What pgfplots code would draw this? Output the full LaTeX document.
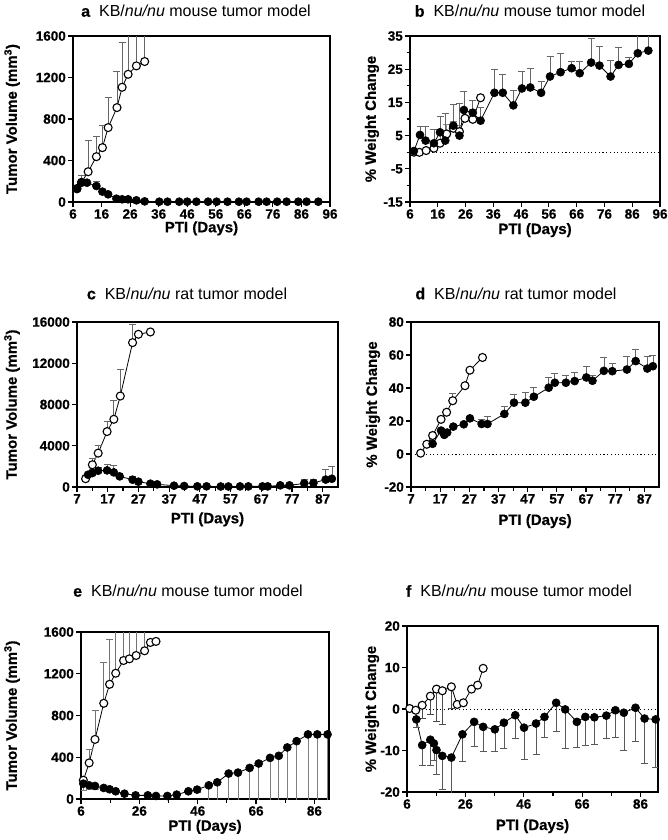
\documentclass[border=0pt]{standalone}
\usepackage{fontspec}
\setmainfont{Liberation Sans}
\newfontfamily\heavy{Liberation Sans Bold}[FakeBold=0.6]
\usepackage{pgfplots}
\pgfplotsset{compat=1.18}
\pgfplotsset{
 panel/.style={scale only axis, enlargelimits=false,
  scaled x ticks=false, scaled y ticks=false,
  axis line style={line width=1.3pt},
  every tick/.style={line width=1.2pt, black},
  tick align=outside, tick pos=left,
  major tick length=5pt, minor tick length=3.5pt,
  tick label style={font=\fontsize{13.5}{15}\selectfont\heavy, inner sep=2pt},
  label style={font=\fontsize{15}{17}\selectfont\heavy},
  xlabel={PTI (Days)},
  clip=true},
 xl/.style={xlabel style={at={(axis description cs:0.5,#1)}, anchor=base}},
 yl/.style={ylabel style={at={(axis description cs:#1,0.5)}, anchor=center}},
 filled/.style={black, line width=0.8pt, mark=*, mark size=4pt, mark options={fill=black, draw=black, line width=0.6pt}},
 open/.style={black, line width=0.8pt, mark=*, mark size=4pt, mark options={fill=white, draw=black, line width=1.1pt}},
 ebp/.style={error bars/.cd, y dir=plus, y explicit, error bar style={line width=0.7pt, color=#1}, error mark options={rotate=90, line width=0.7pt, color=#1, mark size=3.5pt}},
 ebm/.style={error bars/.cd, y dir=minus, y explicit, error bar style={line width=0.7pt, color=#1}, error mark options={rotate=90, line width=0.7pt, color=#1, mark size=3.5pt}},
 zeroline/.style={black, line width=1pt, dash pattern=on 1.1pt off 2.6pt, forget plot}
}
\newcommand{\ttl}[2]{\fontsize{16}{19}\selectfont{\heavy #1}\hspace{9pt}KB/\textit{nu/nu} #2 tumor model}
\begin{document}
\begin{tikzpicture}
\path[use as bounding box] (0pt,0pt) rectangle (667pt,-840pt);
% titles
\node[anchor=base] at (196pt,-16.7pt) {\ttl{a}{mouse}};
\node[anchor=base] at (530pt,-16.7pt) {\ttl{b}{mouse}};
\node[anchor=base] at (187pt,-299.3pt) {\ttl{c}{rat}};
\node[anchor=base] at (516pt,-299.3pt) {\ttl{d}{rat}};
\node[anchor=base] at (188pt,-596.7pt) {\ttl{e}{mouse}};
\node[anchor=base] at (519pt,-596.7pt) {\ttl{f}{mouse}};

% ---------------- a ----------------
\begin{axis}[panel, at={(73pt,-202pt)}, anchor=south west, width=257pt, height=166pt,
 xmin=6, xmax=96, ymin=0, ymax=1600,
 xtick={6,16,26,36,46,56,66,76,86,96}, xticklabels={6,16,26,36,46,56,66,76,86,96},
 ytick={0,400,800,1200,1600}, yticklabels={0,400,800,1200,1600},
 ylabel={Tumor Volume (mm\textsuperscript{3})},
 yl=-0.237, xl=-0.1825]
\addplot[open, ebp=black!60] table[x index=0, y index=1, y error index=2] {
7.4 130 20
9.0 190 70
11.3 292 306
14.2 437 200
16.3 524 216
18.3 717 289
21.4 910 347
23.2 1106 431
25.3 1231 600
28.2 1312 600
31.1 1354 600
};
\addplot[filled, ebp=black!60] table[x index=0, y index=1, y error index=2] {
7.4 125 10
8.9 186 30
10.9 186 20
14.2 154 46
16.3 100 15
18.3 74 10
21.2 32 5
23.2 26 5
25.3 26 5
28.2 16 3
31.1 6 2
36.2 3 0
39.1 3 0
43.2 3 0
46.0 3 0
49.2 3 0
53.3 3 0
56.3 3 0
60.1 3 0
64.1 3 0
66.8 3 0
71.0 3 0
73.8 3 0
77.5 3 0
80.8 3 0
84.9 3 0
87.8 3 0
91.9 3 0
};
\end{axis}

% ---------------- b ----------------
\begin{axis}[panel, at={(410pt,-202pt)}, anchor=south west, width=250pt, height=166pt,
 xmin=6, xmax=96, ymin=-15, ymax=35,
 xtick={6,16,26,36,46,56,66,76,86,96}, xticklabels={6,16,26,36,46,56,66,76,86,96},
 ytick={-15,-5,5,15,25,35}, yticklabels={-15,-5,5,15,25,35},
 minor ytick={-10,0,10,20,30},
 ylabel={\% Weight Change},
 yl=-0.152, xl=-0.193]
\addplot[zeroline] coordinates {(6,0) (96,0)};
\addplot[open, ebp=black!45] table[x index=0, y index=1, y error index=2] {
7.4 0 0
9.4 -0.04 0
11.8 0.5 0
14.6 1.2 1
16.8 2.7 3
19.2 5.5 3
21.6 7.2 2
23.8 6.2 2
25.8 10.2 2
28.6 9.9 3
31.4 16.4 0
};
\addplot[filled, ebp=black!60] table[x index=0, y index=1, y error index=2] {
7.4 0.36 0
9.6 5.2 2.5
11.6 3.5 4.2
14.6 2.7 4.2
16.8 6.0 4.7
18.7 3.5 8.2
21.6 8.0 6.4
23.8 5.0 9.7
25.4 12.7 5.5
28.6 11.9 3.8
31.4 9.5 4.0
36.4 17.9 7.1
39.4 17.9 5.7
43.2 14.1 4.4
46.3 19.2 5.3
49.3 19.5 5.8
53.2 17.9 3.5
56.4 22.8 6.0
60.2 24.1 5.7
64.2 25.3 2.2
67.1 23.8 3.5
71.2 27.0 7.3
74.2 26.1 5.7
78.2 22.8 4.8
81.1 26.3 5.3
84.8 26.6 2.0
88.0 29.8 6.0
91.8 30.6 6.0
};
\end{axis}

% ---------------- c ----------------
\begin{axis}[panel, at={(77pt,-487pt)}, anchor=south west, width=261pt, height=165pt,
 xmin=7, xmax=92, ymin=0, ymax=16000,
 xtick={7,17,27,37,47,57,67,77,87}, xticklabels={7,17,27,37,47,57,67,77,87},
 minor xtick={12,22,32,42,52,62,72,82},
 ytick={0,4000,8000,12000,16000}, yticklabels={0,4000,8000,12000,16000},
 ylabel={Tumor Volume (mm\textsuperscript{3})},
 yl=-0.249, xl=-0.22]
\addplot[open, ebp=black!60] table[x index=0, y index=1, y error index=2] {
9.8 805 300
12.0 2157 643
13.9 3284 740
16.8 5376 966
19.0 6567 1803
21.1 8821 2575
25.1 14000 1775
27.0 14809 0
30.9 15034 0
};
\addplot[filled, ebp=black!60] table[x index=0, y index=1, y error index=2] {
10.6 1191 0
12.0 1352 200
13.9 1577 300
16.8 1610 547
19.0 1416 644
20.9 1030 300
25.1 708 300
27.0 515 100
30.9 322 50
33.1 257 50
38.6 129 0
41.9 97 0
46.2 64 0
49.2 64 0
53.8 50 0
56.3 50 0
60.1 60 0
62.8 60 0
67.4 60 0
69.1 60 0
73.2 161 50
76.2 161 50
81.0 350 430
84.0 390 390
88.0 720 1030
90.0 800 1240
};
\end{axis}

% ---------------- d ----------------
\begin{axis}[panel, at={(411pt,-487pt)}, anchor=south west, width=248pt, height=165pt,
 xmin=7, xmax=92, ymin=-20, ymax=80,
 xtick={7,17,27,37,47,57,67,77,87}, xticklabels={7,17,27,37,47,57,67,77,87},
 minor xtick={12,22,32,42,52,62,72,82},
 ytick={-20,0,20,40,60,80}, yticklabels={-20,0,20,40,60,80},
 ylabel={\% Weight Change},
 yl=-0.153, xl=-0.23]
\addplot[zeroline] coordinates {(7,0) (92,0)};
\addplot[open, ebp=black!60] table[x index=0, y index=1, y error index=2] {
10.3 0.5 0
12.4 5.9 0
14.4 11.2 0
17.3 21 0
19.2 25.3 0
21.3 32.3 4.4
25.5 41.4 0
27.2 50.8 0
31.5 58.5 0
};
\addplot[filled, ebp=black!60] table[x index=0, y index=1, y error index=2] {
14.4 6.2 0
17.3 14.2 1.5
18.4 11.6 1.5
19.4 13 1.5
21.5 16.6 1
25.1 18 1
27.2 21.6 1
31.2 18.2 2.8
33.2 18.2 4.8
39.0 24.3 4.7
42.3 31.1 5.2
46.2 31.1 6.2
49.1 34.7 5.6
54.2 40.2 6.2
56.3 43.2 5.6
60.1 43.2 4.6
63.1 44.2 5.0
67.1 46.4 6.8
69.2 44.4 3.5
73.1 50.4 7.9
76.0 50.2 4.7
81.0 51.2 8.2
84.0 56.3 7.2
88.0 51.8 7.1
89.9 53.2 6.8
};
\end{axis}

% ---------------- e ----------------
\begin{axis}[panel, at={(81pt,-799pt)}, anchor=south west, width=248pt, height=167pt,
 xmin=6, xmax=91, ymin=0, ymax=1600,
 xtick={6,26,46,66,86}, xticklabels={6,26,46,66,86},
 minor xtick={16,36,56,76},
 ytick={0,400,800,1200,1600}, yticklabels={0,400,800,1200,1600},
 ylabel={Tumor Volume (mm\textsuperscript{3})},
 yl=-0.278, xl=-0.19]
\addplot[open, ebp=black!55] table[x index=0, y index=1, y error index=2] {
6.8 180 0
8.8 346 128
10.8 571 275
13.8 917 391
15.8 1099 427
17.9 1205 500
20.6 1327 400
22.6 1343 400
24.9 1375 400
27.8 1420 300
29.8 1500 0
31.7 1510 0
};
\addplot[filled, ebm=black!50] table[x index=0, y index=1, y error index=2] {
6.8 147 60
8.8 131 40
10.8 125 30
13.8 106 20
15.8 93 20
17.9 74 15
20.9 51 10
24.7 35 10
28.9 35 10
31.7 29 10
35.6 29 10
38.8 42 10
42.8 74 20
45.8 90 30
49.8 131 200
52.7 160 240
56.6 244 370
59.8 253 380
63.8 298 450
66.9 340 510
70.8 394 590
73.8 414 620
76.7 494 740
79.9 554 830
83.8 619 930
87.0 619 930
90.5 619 930
};
\end{axis}

% ---------------- f ----------------
\begin{axis}[panel, at={(407pt,-792pt)}, anchor=south west, width=251pt, height=166pt,
 xmin=6, xmax=92, ymin=-20, ymax=20,
 xtick={6,26,46,66,86}, xticklabels={6,26,46,66,86},
 minor xtick={16,36,56,76},
 ytick={-20,-10,0,10,20}, yticklabels={-20,-10,0,10,20},
 ylabel={\% Weight Change},
 yl=-0.139, xl=-0.229]
\addplot[zeroline] coordinates {(6,0) (92,0)};
\addplot[open, ebm=black!70] table[x index=0, y index=1, y error index=2] {
6.9 0.12 0
9.0 -0.3 0
11.2 0.9 3.2
14.0 3.1 4.3
16.1 4.8 7.7
18.1 4.4 8.1
21.2 5.35 5.2
23.2 1.1 0
25.3 1.5 0
28.1 4.8 0
30.2 5.75 0
32.1 9.8 0
};
\addplot[filled, ebm=black!65] table[x index=0, y index=1, y error index=2] {
9.2 -2.5 2.0
11.2 -8.7 4.9
14.0 -7.4 6.2
15.2 -8.3 4.1
16.1 -9.9 5.8
18.1 -11.3 8.1
21.2 -11.7 9.0
25.0 -6.1 6.4
29.0 -3.1 5.9
32.1 -4.3 6.0
36.1 -4.9 5.4
39.2 -3.3 6.2
43.1 -1.5 5.5
46.1 -4.5 7.7
50.2 -3.5 7.5
53.1 -1.9 5.0
57.1 1.5 7.0
60.2 -0.1 9.4
64.2 -3.1 6.2
67.1 -1.9 6.8
70.2 -2.0 6.6
74.3 -1.6 5.5
77.4 -0.3 6.6
80.3 -0.9 9.0
84.3 0.3 8.0
87.4 -2.3 10.7
91.2 -2.5 11.6
};
\end{axis}
\end{tikzpicture}
\end{document}
